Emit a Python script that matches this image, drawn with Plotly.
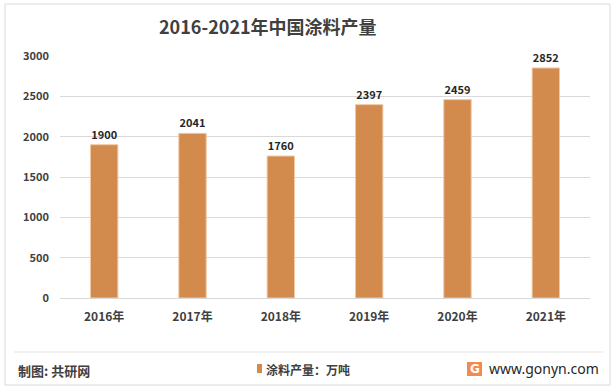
import plotly.graph_objects as go

years = ["2016年", "2017年", "2018年", "2019年", "2020年", "2021年"]
output = [1900, 2041, 1760, 2397, 2459, 2852]
y_ticks = [0, 500, 1000, 1500, 2000, 2500, 3000]
series_name = "涂料产量：万吨"
title_text = "2016-2021年中国涂料产量"

W, H = 616, 389
L, R, T, B = 60, 26, 56, 91
pw, ph = W - L - R, H - T - B

def px(x):
    return (x - L) / pw

def py(y):
    return (H - B - y) / ph

font_family = "Noto Sans CJK SC, Noto Sans, sans-serif"
bar_color = "#D38B4D"

fig = go.Figure()
fig.add_trace(go.Bar(
    x=years, y=output, name=series_name,
    marker=dict(color=bar_color, line=dict(color="#EFC9A6", width=1)),
    text=["<b>%d</b>" % v for v in output], textposition="outside",
    textfont=dict(size=11, color="#262626", family=font_family),
    cliponaxis=False,
))

fig.update_layout(
    width=W, height=H,
    margin=dict(l=L, r=R, t=T, b=B, autoexpand=False),
    paper_bgcolor="white", plot_bgcolor="white",
    bargap=0.69,
    showlegend=False,
    font=dict(family=font_family, color="#595959", size=11),
    title=dict(text="<b>" + title_text + "</b>", x=px(159), xanchor="left",
               xref="paper", y=1 - 28 / H, yanchor="middle",
               font=dict(size=18, color="#404040", family=font_family)),
    xaxis=dict(showgrid=False, showline=False, ticks="", automargin=False,
               ticklabelstandoff=10,
               tickfont=dict(size=12, color="#404040", family=font_family),
               tickvals=years, ticktext=["<b>%s</b>" % y for y in years]),
    yaxis=dict(range=[0, 3000], showgrid=True, gridcolor="#D9D9D9", gridwidth=1,
               tickvals=y_ticks, ticktext=["<b>%d</b>" % v for v in y_ticks],
               zeroline=True, zerolinecolor="#D9D9D9", zerolinewidth=1, automargin=False,
               showline=False, ticks="", ticklabelstandoff=10,
               tickfont=dict(size=11, color="#404040")),
)

shapes = [
    dict(type="rect", xref="paper", yref="paper", x0=px(5), x1=px(610), y0=py(385), y1=py(4),
         line=dict(color="#D9D9D9", width=1), fillcolor="rgba(0,0,0,0)", layer="below"),
    dict(type="line", xref="paper", yref="paper", x0=px(14), x1=px(603), y0=py(352), y1=py(352),
         line=dict(color="#E3E3E3", width=1)),
    dict(type="rect", xref="paper", yref="paper", x0=px(257), x1=px(262), y0=py(373), y1=py(364),
         line=dict(width=0), fillcolor=bar_color),
    dict(type="rect", xref="paper", yref="paper", x0=px(467), x1=px(482), y0=py(376), y1=py(362),
         line=dict(width=0), fillcolor="#F3894A"),
]
fig.update_layout(shapes=shapes)

fig.add_annotation(text="<b>制图: 共研网</b>", xref="paper", yref="paper", x=px(16), y=py(370),
                   xanchor="left", yanchor="middle", showarrow=False,
                   font=dict(size=13, color="#404040", family=font_family))
fig.add_annotation(text="<b>" + series_name + "</b>", xref="paper", yref="paper", x=px(264), y=py(369),
                   xanchor="left", yanchor="middle", showarrow=False,
                   font=dict(size=12, color="#404040", family=font_family))
fig.add_annotation(text="<b>G</b>", xref="paper", yref="paper", x=px(474.5), y=py(369),
                   xanchor="center", yanchor="middle", showarrow=False,
                   font=dict(size=12, color="white", family="DejaVu Sans"))
fig.add_annotation(text="www.gonyn.com", xref="paper", yref="paper", x=px(601), y=py(368),
                   xanchor="right", yanchor="middle", showarrow=False,
                   font=dict(size=14, color="#262626", family="Noto Sans, sans-serif"))

fig.write_html("out.html", config={"displayModeBar": False},
               post_script="document.body.style.margin='0';")
